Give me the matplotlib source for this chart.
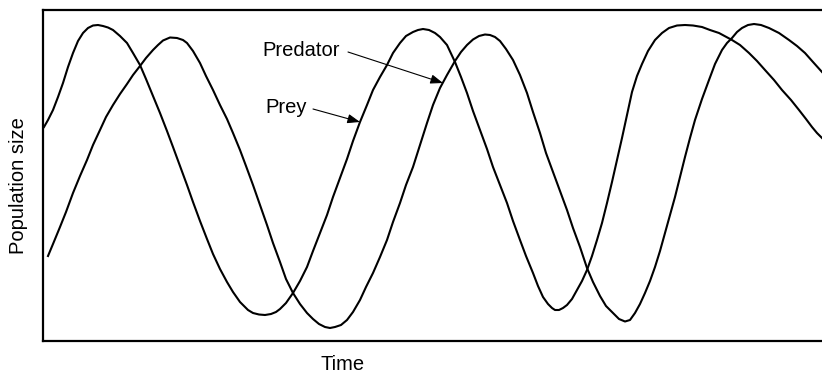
import matplotlib

matplotlib.use("Agg")
import matplotlib.pyplot as plt

plt.rcParams["font.family"] = ["Liberation Sans", "DejaVu Sans"]

# values (arbitrary units)
prey_time = [1, 5, 10, 15, 20, 25, 30, 35, 40, 45, 50, 55, 60, 65, 70, 77, 84, 90,
             97, 103, 110, 117, 124, 130, 137, 144, 150, 157, 164, 170, 177, 184,
             190, 197, 205, 210, 216, 222, 228, 233, 237, 243, 250, 257, 264, 270,
             277, 284, 290, 297, 304, 310, 317, 324, 330, 337, 344, 350, 357, 363,
             370, 375, 380, 386, 392, 397, 404, 412, 418, 424, 430, 437, 444, 450,
             457, 464, 470, 477, 483, 490, 495, 500, 505, 509, 512, 516, 520, 524,
             529, 534, 539, 544, 549, 554, 559, 564, 569, 574, 579, 584, 589, 594,
             599, 605, 612, 619, 626, 634, 642, 650, 659, 667, 676, 689, 697, 706,
             714, 722, 731, 739, 748, 756, 763, 769, 774, 779]
prey_size = [214, 221, 231, 244, 258, 274, 288, 300, 308, 313, 315.5, 316, 315, 313.5,
             311, 305, 298, 288, 276, 262, 245, 228, 210, 194, 175, 156, 139, 120,
             102, 87, 72, 59, 49, 39, 31, 28, 26.5, 26, 27, 29, 32, 38, 48, 60, 74,
             90, 108, 126, 144, 163, 182, 200, 219, 236, 251, 264, 276, 288, 298,
             305, 309, 311, 312, 311, 308, 304, 296, 279, 264, 248, 230, 211, 192,
             174, 156, 138, 120, 101, 85, 68, 55, 44, 37, 33, 31, 31, 33, 36, 42, 51,
             60, 71, 85, 101, 118, 138, 159, 181, 203, 226, 249, 265, 277, 290, 301,
             308, 313, 315.5, 316, 315.5, 314, 311, 308, 301, 296, 288, 280, 271,
             261, 251, 241, 231, 222, 214, 208, 203]

predator_time = [5, 10, 17, 23, 30, 37, 44, 50, 57, 63, 70, 77, 84, 90, 97, 103, 110,
                 115, 120, 127, 134, 140, 144, 150, 157, 163, 170, 177, 184, 190, 197,
                 203, 210, 217, 224, 230, 237, 243, 250, 257, 264, 270, 276, 282, 287,
                 292, 298, 304, 310, 317, 323, 330, 337, 344, 350, 357, 363, 370, 377,
                 384, 390, 397, 404, 412, 418, 424, 430, 436, 442, 447, 452, 457, 463,
                 470, 477, 484, 490, 497, 503, 510, 517, 524, 530, 537, 544, 550, 557,
                 563, 570, 576, 582, 587, 592, 597, 602, 607, 612, 617, 622, 627, 632,
                 637, 642, 647, 652, 659, 666, 672, 679, 684, 689, 694, 699, 705, 711,
                 718, 726, 736, 746, 754, 762, 770, 779]
predator_size = [85, 97, 114, 129, 148, 165, 181, 196, 211, 224, 236, 247, 257, 266,
                 275, 283, 291, 296, 300.5, 303.5, 303, 301, 298, 290, 278, 265, 251,
                 236, 222, 208, 191, 175, 156, 136, 116, 98, 79, 62, 48, 37, 28, 22, 17,
                 14, 13, 14, 16, 21, 29, 41, 54, 68, 84, 101, 119, 138, 156, 174, 196,
                 218, 236, 253, 266, 280, 289, 296, 301.5, 305, 306.5, 306, 304, 300,
                 292, 281, 266, 248, 229, 208, 188, 169, 150, 131, 113, 94, 73, 59, 45,
                 35, 28, 22, 19.5, 21, 28, 37, 48, 60, 74, 90, 108, 126, 144, 164, 184,
                 203, 221, 242, 261, 277, 291, 298, 303, 309, 313, 316, 317, 316, 313,
                 308, 301, 295, 288, 279, 269]

fig = plt.figure(figsize=(8.22, 3.75), dpi=100)
ax = fig.add_axes([43 / 822, 34 / 375, 779 / 822, 331 / 375])

ax.plot(prey_time, prey_size, color="black", lw=1.5, solid_joinstyle="round")
ax.plot(predator_time, predator_size, color="black", lw=1.5, solid_joinstyle="round")

ax.set_xlim(0, 779)
ax.set_ylim(0, 331)
ax.set_xticks([])
ax.set_yticks([])
ax.spines["right"].set_visible(False)
for side in ["left", "top", "bottom"]:
    ax.spines[side].set_linewidth(1.6)

arrow = dict(arrowstyle="-|>,head_length=0.75,head_width=0.28", color="black",
             lw=0.8, shrinkA=0, shrinkB=0)
ax.text(219, 285, "Predator", fontsize=14.5, ha="left", va="baseline")
ax.annotate("", xy=(400, 258), xytext=(305, 289), arrowprops=arrow)
ax.text(222, 228, "Prey", fontsize=14.5, ha="left", va="baseline")
ax.annotate("", xy=(317, 219), xytext=(270, 232), arrowprops=arrow)

fig.text(18 / 822, 1 - 186 / 375, "Population size", fontsize=14.5, rotation=90,
         ha="center", va="center")
fig.text(343 / 822, 1 - 365 / 375, "Time", fontsize=14.5, ha="center", va="center")

fig.savefig("out.png", dpi=100)
plt.close(fig)
